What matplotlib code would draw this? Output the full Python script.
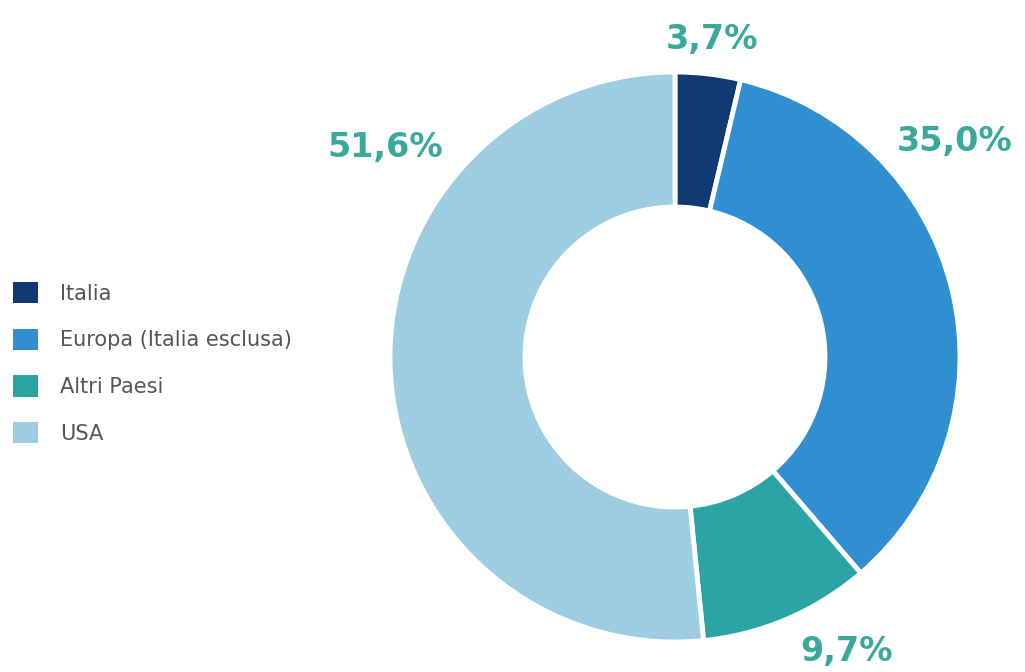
import matplotlib.pyplot as plt
from matplotlib.patches import Patch

# Ripartizione percentuale per area geografica
categorie = ['Italia', 'Europa (Italia esclusa)', 'Altri Paesi', 'USA']
valori = [3.7, 35.0, 9.7, 51.6]
etichette = ['3,7%', '35,0%', '9,7%', '51,6%']
colori = ['#0f3a72', '#2f8fd1', '#2ba4a6', '#9dcde0']

# posizione delle etichette (pixel, origine in basso a sinistra)
pos_etichette = [(712, 632), (955, 531), (846, 20), (385, 525)]

fig = plt.figure(figsize=(10.25, 6.72), dpi=100)
ax = fig.add_axes([0, 0, 1, 1])

ax.pie(valori, colors=colori, startangle=90, counterclock=False,
       center=(675, 315), radius=285,
       wedgeprops=dict(width=135, edgecolor='white', linewidth=3.5))
ax.set_xlim(0, 1025)
ax.set_ylim(0, 672)
ax.set_aspect('equal')
ax.axis('off')

for testo, (x, y) in zip(etichette, pos_etichette):
    ax.text(x, y, testo, ha='center', va='center', fontsize=24,
            fontweight='bold', color='#3aa99c', family='DejaVu Sans')

# legenda a sinistra
maniglie = [Patch(facecolor=c, edgecolor='none') for c in colori]
leg = fig.legend(maniglie, categorie, loc='center left',
                 bbox_to_anchor=(0.0, 0.46), frameon=False,
                 handlelength=1.2, handleheight=1.2, handletextpad=1.1,
                 labelspacing=1.2, borderaxespad=0.2,
                 prop=dict(family='DejaVu Sans', size=15))
for t in leg.get_texts():
    t.set_color('#555555')

fig.savefig('out.png', dpi=100)
